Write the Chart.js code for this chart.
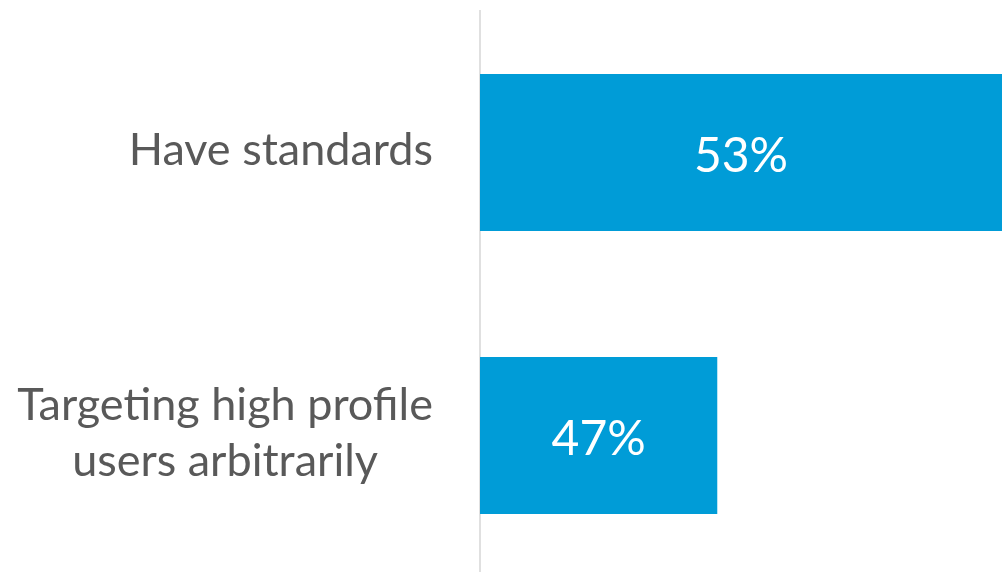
<!DOCTYPE html>
<html>
<head>
<meta charset="utf-8">
<script src="https://cdn.jsdelivr.net/npm/chart.js@4/dist/chart.umd.min.js"></script>
<style>
  html, body { margin: 0; padding: 0; background: #ffffff; overflow: hidden; }
  #wrap { position: relative; width: 1002px; height: 577px; }
</style>
</head>
<body>
<div id="wrap"><canvas id="chart"></canvas></div>
<script>
// Survey answers and their shares
const categories = [
  ['Have standards'],
  ['Targeting high profile', 'users arbitrarily']
];
const shares = [53, 47];
const valueLabels = ['53%', '47%'];
const axisMin = 42;
const axisMax = 53;

const BAR_COLOR = '#009CD7';
const TEXT_COLOR = '#595959';
const FONT = 'Lato, "Open Sans", sans-serif';

// Category labels: block right-aligned next to the axis, lines centred within the block
const categoryLabels = {
  id: 'categoryLabels',
  afterDraw(chart) {
    const ctx = chart.ctx;
    const yScale = chart.scales.y;
    const right = chart.chartArea.left - 47;
    const lineH = 56;
    ctx.save();
    ctx.font = '45px ' + FONT;
    ctx.fillStyle = TEXT_COLOR;
    ctx.textBaseline = 'middle';
    ctx.textAlign = 'center';
    categories.forEach((lines, i) => {
      const cy = yScale.getPixelForValue(i) - 2;
      const maxW = Math.max(...lines.map(l => ctx.measureText(l).width));
      const cx = right - maxW / 2;
      const top = cy - (lines.length - 1) * lineH / 2;
      lines.forEach((l, j) => ctx.fillText(l, cx, top + j * lineH));
    });
    ctx.restore();
  }
};

// Value labels in the middle of the visible part of each bar
const barValues = {
  id: 'barValues',
  afterDraw(chart) {
    const ctx = chart.ctx;
    const xScale = chart.scales.x;
    const yScale = chart.scales.y;
    const area = chart.chartArea;
    ctx.save();
    ctx.font = '48px ' + FONT;
    ctx.fillStyle = '#ffffff';
    ctx.textAlign = 'center';
    ctx.textBaseline = 'alphabetic';
    shares.forEach((v, i) => {
      const start = xScale.getPixelForValue(axisMin);
      const end = Math.min(xScale.getPixelForValue(v), area.right);
      const cx = (start + end) / 2;
      const cy = yScale.getPixelForValue(i);
      ctx.fillText(valueLabels[i], cx, cy + 19);
    });
    ctx.restore();
  }
};

new Chart(document.getElementById('chart'), {
  type: 'bar',
  data: {
    labels: categories.map(c => c.join(' ')),
    datasets: [{
      data: shares,
      backgroundColor: BAR_COLOR,
      borderWidth: 0,
      categoryPercentage: 1,
      barPercentage: 0.555
    }]
  },
  options: {
    indexAxis: 'y',
    responsive: true,
    maintainAspectRatio: false,
    animation: false,
    layout: { padding: { top: 11, left: 0, right: 0, bottom: 0 } },
    plugins: { legend: { display: false }, tooltip: { enabled: false } },
    scales: {
      x: {
        display: false,
        min: axisMin,
        max: axisMax
      },
      y: {
        afterFit(scale) { scale.width = 480; },
        ticks: { display: false },
        grid: { display: true, drawOnChartArea: false, drawTicks: false },
        border: { display: true, color: '#e0e0e0', width: 2 }
      }
    }
  },
  plugins: [categoryLabels, barValues]
});
</script>
</body>
</html>
